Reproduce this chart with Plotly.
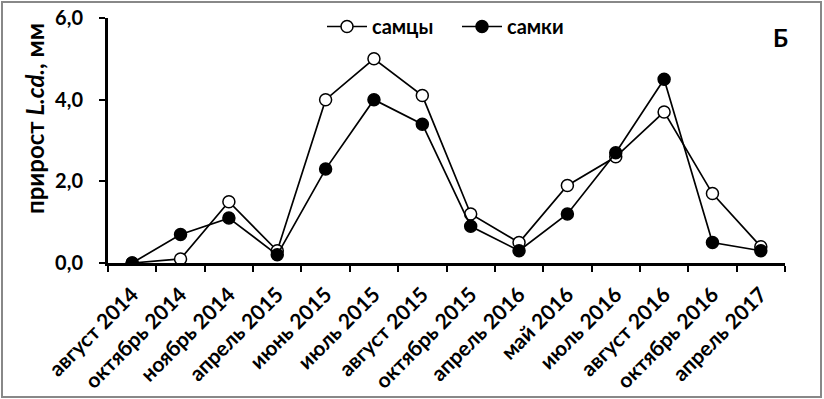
import plotly.graph_objects as go

categories = ["август 2014", "октябрь 2014", "ноябрь 2014", "апрель 2015", "июнь 2015",
              "июль 2015", "август 2015", "октябрь 2015", "апрель 2016", "май 2016",
              "июль 2016", "август 2016", "октябрь 2016", "апрель 2017"]
males = [0.0, 0.1, 1.5, 0.3, 4.0, 5.0, 4.1, 1.2, 0.5, 1.9, 2.6, 3.7, 1.7, 0.4]
females = [0.0, 0.7, 1.1, 0.2, 2.3, 4.0, 3.4, 0.9, 0.3, 1.2, 2.7, 4.5, 0.5, 0.3]
y_ticks = [0, 2, 4, 6]

FONT = "Lato"

fig = go.Figure()
fig.add_trace(go.Scatter(
    x=categories, y=males, name="самцы", mode="lines+markers",
    line=dict(color="black", width=1.7),
    marker=dict(symbol="circle", size=12, color="white", line=dict(color="black", width=1.5)),
))
fig.add_trace(go.Scatter(
    x=categories, y=females, name="самки", mode="lines+markers",
    line=dict(color="black", width=1.7),
    marker=dict(symbol="circle", size=12, color="black", line=dict(color="black", width=1.5)),
))

W, H = 824, 399
L, R, T, B = 108, 39, 18, 136
pw, ph = W - L - R, H - T - B

def px_x(p):
    return (p - L) / pw

def px_y(p):
    return (H - B - p) / ph

fig.add_shape(type="rect", xref="paper", yref="paper",
              x0=px_x(2), x1=px_x(821), y0=px_y(397), y1=px_y(2),
              line=dict(color="#888888", width=2), fillcolor="rgba(0,0,0,0)", layer="below")

fig.add_annotation(text="<b>Б</b>", xref="paper", yref="paper", x=px_x(780), y=px_y(37),
                   xanchor="center", yanchor="middle",
                   showarrow=False, font=dict(family=FONT, size=24, color="black"))

fig.add_annotation(text="<b>прирост <i>L.cd.</i>, мм</b>", xref="paper", yref="paper",
                   x=px_x(35), y=px_y(119), xanchor="center", yanchor="middle",
                   textangle=-90, showarrow=False,
                   font=dict(family=FONT, size=24, color="black"))

fig.update_layout(
    width=W, height=H,
    margin=dict(l=L, r=R, t=T, b=B, autoexpand=False),
    paper_bgcolor="white", plot_bgcolor="white",
    separators=", ",
    font=dict(family=FONT, color="black"),
    showlegend=True,
    legend=dict(orientation="h", x=px_x(322), y=px_y(7), xanchor="left", yanchor="top",
                font=dict(family=FONT, size=20, color="black", weight="bold"),
                itemwidth=40, bgcolor="rgba(0,0,0,0)", entrywidth=80),
    xaxis=dict(
        type="category", range=[-0.5, 13.5], tickson="boundaries",
        showline=True, linecolor="black", linewidth=3,
        ticks="outside", ticklen=6, tickwidth=2, tickcolor="black",
        tickangle=-45, showgrid=False, zeroline=False, ticklabelstandoff=8,
        tickfont=dict(family=FONT, size=21, color="black", weight="bold"),
    ),
    yaxis=dict(
        range=[0, 6], tickvals=y_ticks, tickformat=".1f",
        showline=True, linecolor="black", linewidth=3,
        ticks="outside", ticklen=6, tickwidth=2, tickcolor="black",
        showgrid=False, zeroline=False, ticklabelstandoff=12,
        tickfont=dict(family=FONT, size=20, color="black", weight="bold"),
    ),
)

fig.write_html("out.html", config={"displayModeBar": False},
               post_script="document.body.style.margin='0px';")
